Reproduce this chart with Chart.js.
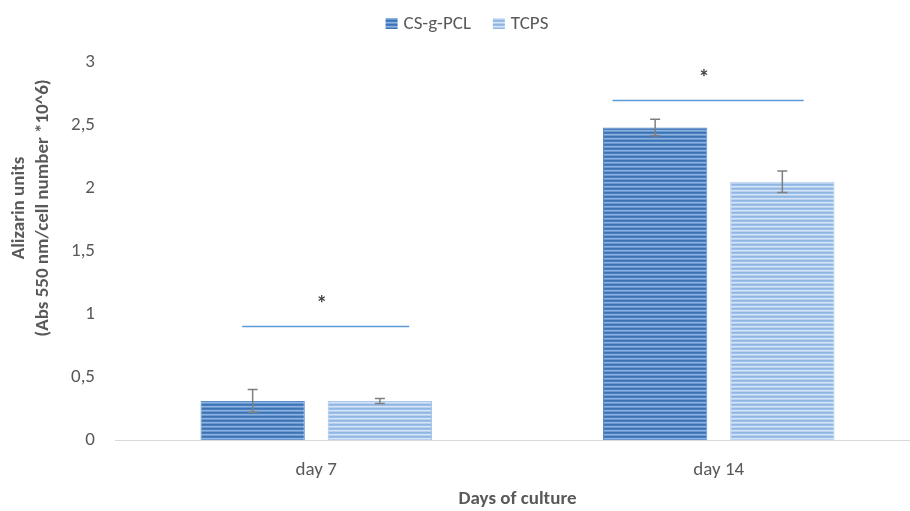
<!DOCTYPE html>
<html><head><meta charset="utf-8">
<script src="https://cdn.jsdelivr.net/npm/chart.js@4"></script>
<style>
html,body{margin:0;padding:0;overflow:hidden;background:#fff}
#wrap{width:920px;height:511px}
</style>
</head><body>
<div id="wrap"><canvas id="c" width="920" height="511"></canvas></div>
<script>
// Alizarin red staining, normalised per cell number
const categories = ['day 7', 'day 14'];
const seriesNames = ['CS-g-PCL', 'TCPS'];
const csValues = [0.31, 2.48];
const tcpsValues = [0.31, 2.05];
const csErrors = [0.09, 0.065];
const tcpsErrors = [0.02, 0.085];
const sigLevels = [0.905, 2.70];
const sigMarks = ['*', '*'];
const yTickLabels = ['0', '0,5', '1', '1,5', '2', '2,5', '3'];
const yTitleLines = ['Alizarin units', '(Abs 550 nm/cell number *10^6)'];
const xTitle = 'Days of culture';

const FONT = "Carlito, Lato, 'Liberation Sans', sans-serif";
const TEXT = '#595959';

const canvas = document.getElementById('c');
const ctx = canvas.getContext('2d');

// horizontal-stripe fills
function stripes(rows) {
  const p = document.createElement('canvas');
  p.width = 4; p.height = rows.length;
  const g = p.getContext('2d');
  rows.forEach((col, i) => { g.fillStyle = col; g.fillRect(0, i, 4, 1); });
  return ctx.createPattern(p, 'repeat');
}
const csFill = stripes(['#3d72b4', '#4a7fbf', '#8cb2df', '#6a98cf']);
const tcpsFill = stripes(['#8fb5e3', '#9dc0e8', '#d4e3f5', '#b9d1ee']);

const overlay = {
  id: 'overlay',
  afterDatasetsDraw(chart, args, opts) {
    const c = chart.ctx;
    const ys = chart.scales.y, xs = chart.scales.x;
    // error bars
    const errs = [csErrors, tcpsErrors];
    const vals = [csValues, tcpsValues];
    c.save();
    c.strokeStyle = '#7f7f7f';
    c.lineWidth = 1.5;
    [0, 1].forEach(di => {
      chart.getDatasetMeta(di).data.forEach((bar, j) => {
        const top = ys.getPixelForValue(vals[di][j] + errs[di][j]);
        const bot = ys.getPixelForValue(vals[di][j] - errs[di][j]);
        c.beginPath();
        c.moveTo(bar.x, top); c.lineTo(bar.x, bot);
        c.moveTo(bar.x - 5, top); c.lineTo(bar.x + 5, top);
        c.moveTo(bar.x - 5, bot); c.lineTo(bar.x + 5, bot);
        c.stroke();
      });
    });
    // significance brackets
    const cw = xs.width / categories.length;
    c.strokeStyle = '#5b9bd5';
    c.lineWidth = 1.5;
    c.fillStyle = '#404040';
    c.font = 'bold 22px ' + FONT;
    c.textAlign = 'center';
    c.textBaseline = 'middle';
    sigLevels.forEach((lv, j) => {
      const cx = xs.getPixelForValue(j);
      const y = Math.round(ys.getPixelForValue(lv)) + 0.5;
      const x1 = cx + opts.spans[j][0] * cw, x2 = cx + opts.spans[j][1] * cw;
      c.beginPath(); c.moveTo(x1, y); c.lineTo(x2, y); c.stroke();
      c.fillText(sigMarks[j], (x1 + x2) / 2 - 4, y - 21);
    });
    // axis titles
    c.fillStyle = TEXT;
    c.font = 'bold 19px ' + FONT;
    c.fillText(xTitle, (chart.chartArea.left + chart.chartArea.right) / 2, 499);
    c.save();
    c.translate(0, opts.yTitleCenter);
    c.rotate(-Math.PI / 2);
    c.fillText(yTitleLines[0], 0, 19);
    c.fillText(yTitleLines[1], 0, 43);
    c.restore();
    // legend
    c.font = '19px ' + FONT;
    c.textAlign = 'left';
    const fills = [csFill, tcpsFill];
    const widths = seriesNames.map(n => 12 + 6 + c.measureText(n).width);
    const total = widths.reduce((a, b) => a + b, 0) + 22 * (seriesNames.length - 1);
    let x = opts.legendCenter - total / 2;
    seriesNames.forEach((n, i) => {
      c.fillStyle = fills[i];
      c.fillRect(x, 18, 12, 11);
      c.fillStyle = TEXT;
      c.fillText(n, x + 18, 24);
      x += widths[i] + 22;
    });
    c.restore();
  }
};

new Chart(canvas, {
  type: 'bar',
  data: {
    labels: categories,
    datasets: [
      { label: seriesNames[0], data: csValues, backgroundColor: csFill, borderColor: '#5a8ccb', borderWidth: 1 },
      { label: seriesNames[1], data: tcpsValues, backgroundColor: tcpsFill, borderColor: '#a9c7ec', borderWidth: 1 }
    ]
  },
  options: {
    responsive: false,
    animation: false,
    devicePixelRatio: 1,
    layout: { padding: { top: 62, left: 0, right: 0, bottom: 0 } },
    datasets: { bar: { categoryPercentage: 0.632, barPercentage: 0.82 } },
    plugins: {
      legend: { display: false },
      tooltip: { enabled: false },
      overlay: { spans: [[-0.184, 0.231], [-0.264, 0.211]], yTitleCenter: 208, legendCenter: 467 }
    },
    scales: {
      x: {
        grid: { display: false, drawTicks: false },
        border: { color: '#d9d9d9', width: 1 },
        ticks: { color: TEXT, font: { family: FONT, size: 19 }, padding: 19 },
        afterFit(s) { s.height = 71; }
      },
      y: {
        min: 0, max: 3,
        grid: { display: false, drawTicks: false },
        border: { display: false },
        ticks: {
          stepSize: 0.5, color: TEXT, font: { family: FONT, size: 19 }, padding: 20,
          callback: (v, i) => yTickLabels[i]
        },
        afterFit(s) { s.width = 115; }
      }
    }
  },
  plugins: [overlay]
});
</script>
</body></html>
